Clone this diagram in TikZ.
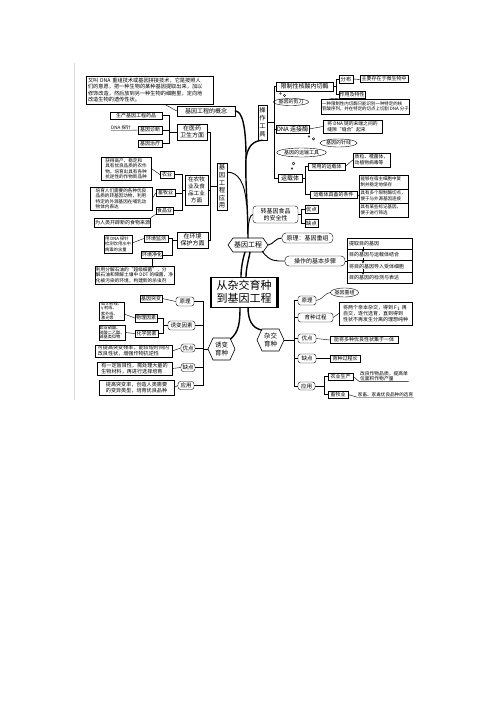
\documentclass[tikz,border=0pt]{standalone}
\usepackage{fontspec}
\setmainfont{Noto Sans CJK SC}
\usetikzlibrary{arrows.meta,shapes.geometric}
\newcommand\fsz[2]{\fontsize{#1pt}{#2pt}\selectfont}
\begin{document}
\begin{tikzpicture}[x=1pt,y=-1pt,
 bx/.style={draw,line width=0.4pt,inner sep=0.5pt,align=center,font=\fsz{5}{6}},
 ds/.style={bx,align=left,font=\fsz{4.7}{5.6}},
 lv/.style={bx,font=\fsz{6}{7.2}},
 tab/.style={lv,rounded corners=2.5pt},
 bub/.style={draw,ellipse,line width=0.4pt,inner sep=0pt,font=\fsz{5}{6}},
 ln/.style={line width=0.4pt},
 tk/.style={line width=1.4pt,line cap=round},
 md/.style={line width=0.9pt},
 hx/.style={line width=0.6pt},
 ul/.style={align=left,inner sep=0.4pt},
 arr/.style={-{Stealth[length=2.2pt,width=2.4pt]},line width=0.5pt},
]
\useasboundingbox (0,0) rectangle (500,707);
\fill[white] (0,0) rectangle (500,707);
\draw[gray!30,line width=0.6pt] (74,63) -- (74,400);

% ---------- top left: concept ----------
\node[ds,font=\fsz{5.2}{6.5},minimum width=127pt,minimum height=28pt,text width=123pt] (concept) at (149.5,90)
 {又叫 DNA 重组技术或基因拼接技术，它是按照人\\们的意愿，把一种生物的某种基因提取出来，加以\\修饰改造，然后放到另一种生物的细胞里，定向地\\改造生物的遗传性状。};
\node[lv,minimum width=58pt,minimum height=10pt] (gainian) at (206,111) {基因工程的概念};
\draw[ln] ([xshift=15pt]concept.south) -- (gainian.west);

% medicine
\node[lv,minimum width=30pt,minimum height=16pt] (yiyao) at (192,132) {在医药\\卫生方面};
\node[bx,minimum width=52pt,minimum height=7pt] (yaopin) at (136,115.5) {生产基因工程药品};
\node[bx,minimum width=24pt,minimum height=8pt] (zhenduan) at (150,130) {基因诊断};
\node[ul,font=\fsz{4.6}{5.4}] (tanzhen) at (121,127.5) {DNA 探针};
\draw[ln] (tanzhen.south west) -- (tanzhen.south east) -- (zhenduan.west);
\node[bx,minimum width=24pt,minimum height=7pt] (zhiliao) at (150,143.5) {基因治疗};
\coordinate (b1) at (169,0);
\draw[ln] (yaopin.east) -- (yaopin.east -| b1) -- (zhiliao.east -| b1) -- (zhiliao.east);
\draw[ln] (zhenduan.east) -- (zhenduan.east -| b1);
\draw[ln] (yiyao.west -| b1) -- (yiyao.west);

% application vertical
\node[lv,minimum width=10pt,minimum height=47pt,font=\fsz{6.3}{7.6}] (yingyong) at (222,186.5) {基\\因\\工\\程\\应\\用};
\node[lv,font=\fsz{5.6}{7},minimum width=23pt,minimum height=30pt] (nongmu) at (196.5,190) {在农牧\\业及食\\品工业\\方面};
\node[lv,minimum width=31pt,minimum height=16pt] (huanbao) at (192.5,240) {在环境\\保护方面};
\coordinate (b2) at (210,0);
\draw[ln] (yiyao.east) -- (yiyao.east -| b2) -- (huanbao.east -| b2) -- (huanbao.east);
\draw[ln] (nongmu.east) -- (nongmu.east -| b2);
\draw[ln] (yingyong.west) -- (yingyong.west -| b2);

% agriculture
\node[bx,minimum width=14pt,minimum height=7pt] (nongye) at (167,174.5) {农业};
\node[ds,font=\fsz{4.6}{5.5},minimum width=50pt,minimum height=23pt] (nongyed) at (126,168.5)
 {获得高产、稳定和\\具有优良品质的农作\\物，培育出具有各种\\抗逆性的作物新品种};
\node[bx,minimum width=19pt,minimum height=7pt] (xumu) at (165.5,193) {畜牧业};
\node[ds,font=\fsz{4.6}{5.5},minimum width=62pt,minimum height=23pt] (xumud) at (121,198.5)
 {培育人们需要的各种优良\\品质的转基因动物，利用\\特定的外源基因在哺乳动\\物体内表达};
\node[bx,minimum width=17pt,minimum height=7pt] (shipin) at (164.5,210.5) {食品业};
\node[bx,minimum width=51pt,minimum height=9pt] (shipind) at (122.5,222.5) {为人类开辟新的食物来源};
\coordinate (b3) at (182,0);
\draw[ln] (nongye.east) -- (nongye.east -| b3) -- (shipin.east -| b3) -- (shipin.east);
\draw[ln] (xumu.east) -- (xumu.east -| b3);
\draw[ln] (nongmu.west -| b3) -- (nongmu.west);
\draw[ln] (nongyed.east) -- (nongye.west);
\draw[ln] (xumud.east) -- (xumu.west);
\draw[ln] (shipin.south west) -- (shipind.north east);

% environment
\node[bx,minimum width=24pt,minimum height=7pt] (jiance) at (156,238.5) {环境监测};
\node[ds,font=\fsz{4.3}{5.4},minimum width=28pt,minimum height=18pt] (jianced) at (118,244) {用 DNA 探针\\检测饮用水中\\病毒的含量};
\node[bx,minimum width=20pt,minimum height=7pt] (jinghua) at (152,255) {环境净化};
\node[ds,font=\fsz{4.7}{5.7},minimum width=79pt,minimum height=18pt] (jinghuad) at (134.5,275)
 {利用分解石油的“超级细菌”，分\\解石油和降解土壤中 DDT 的细菌，净\\化被污染的环境，构建新的杀虫剂};
\coordinate (b4) at (172,0);
\draw[ln] (jiance.east) -- (jiance.east -| b4) -- (jinghua.east -| b4) -- (jinghua.east);
\draw[ln] (huanbao.west -| b4) -- (huanbao.west);
\draw[ln] ([yshift=1pt]jianced.east) -- (jiance.west);
\draw[ln] (jinghua.south) -- (jinghuad.north -| jinghua.south);

% ---------- top right: tools ----------
\node[lv,minimum width=9pt,minimum height=35pt,font=\fsz{6.3}{8}] (gongju) at (262.5,122.5) {操\\作\\工\\具};
\node[lv,minimum width=57pt,minimum height=9pt] (xianzhi) at (304.5,86.5) {限制性核酸内切酶};
\node[lv,minimum width=31pt,minimum height=8pt] (lianjie) at (292.5,129) {DNA 连接酶};
\node[lv,minimum width=24pt,minimum height=8pt] (yunzai) at (290,178.5) {运载体};
\coordinate (b5) at (274,0);
\draw[ln] (xianzhi.west) -- (xianzhi.west -| b5) -- (yunzai.west -| b5) -- (yunzai.west);
\draw[ln] (lianjie.west) -- (lianjie.west -| b5);
\draw[ln] (gongju.east) -- (gongju.east -| b5);

\node[bx,font=\fsz{5.3}{6},minimum width=14pt,minimum height=8pt] (fenbu) at (346,79) {分布};
\node[bx,minimum width=48pt,minimum height=7pt] (fenbud) at (384,78.5) {主要存在于微生物中};
\node[bx,minimum width=26pt,minimum height=7pt] (zuoyong) at (352,94.5) {作用及特性};
\node[ds,font=\fsz{4.45}{5.6},minimum width=85pt,minimum height=15pt] (zuoyongd) at (365.5,106.5)
 {一种限制性内切酶只能识别一种特定的核\\苷酸序列，并在特定的切点上切割 DNA 分子};
\coordinate (b6) at (336,0);
\draw[ln] (xianzhi.east) -- (xianzhi.east -| b6);
\draw[ln] (fenbu.west) -- (fenbu.west -| b6) -- (zuoyong.west -| b6) -- (zuoyong.west);
\draw[ln] (fenbu.east) -- ([yshift=-1pt]fenbud.west);
\draw[ln] (zuoyong.south west) -- ([xshift=8pt]zuoyongd.north west);

\node[bub,minimum width=30pt,minimum height=7pt] (jiandao) at (291,102) {基因的剪刀};
\draw[ln] (280.5,93.5) circle (0.9pt);
\draw[ln] (284.5,95.5) circle (1.2pt);

\node[ds,font=\fsz{4.8}{6},minimum width=59pt,minimum height=13pt] (lianjied) at (352.5,126.5) {将 DNA 链的末端之间的\\缝隙“缝合”起来};
\draw[ln] (lianjie.east) -- (lianjied.west);
\node[bub,minimum width=37pt,minimum height=8pt] (zhenxian) at (338.5,143) {基因的针线};
\draw[ln] (309,136.5) circle (0.9pt);
\draw[ln] (313.5,138.8) circle (1.2pt);

\node[bub,minimum width=47pt,minimum height=9pt] (yunshu) at (301.5,152.5) {基因的运输工具};
\draw[ln] (293.5,163.5) circle (1.3pt);
\draw[ln] (292,168.5) circle (0.9pt);

\node[bx,minimum width=37pt,minimum height=7pt] (changyong) at (326.5,166.5) {常用的运载体};
\node[bx,minimum width=47pt,minimum height=7pt] (tiaojian) at (333.5,194.5) {运载体具备的条件};
\coordinate (b7) at (305,0);
\draw[ln] (yunzai.east) -- (yunzai.east -| b7);
\draw[ln] (changyong.west) -- (changyong.west -| b7) -- (tiaojian.west -| b7) -- (tiaojian.west);
\node[ds,font=\fsz{4.8}{5.8},minimum width=37pt,minimum height=14pt] (changyongd) at (371.5,160) {质粒、噬菌体、\\动植物病毒等};
\draw[ln] (changyong.east) -- (changyongd.west);
\node[ds,font=\fsz{4.5}{5.6},minimum width=49pt,minimum height=14pt,text width=46pt] (c1) at (383.5,182) {能够在宿主细胞中复\\制并稳定地保存};
\node[ds,font=\fsz{4.5}{5.6},minimum width=49pt,minimum height=14pt,text width=46pt] (c2) at (383.5,196) {具有多个限制酶切点，\\便于与外源基因连接};
\node[ds,font=\fsz{4.5}{5.6},minimum width=49pt,minimum height=14pt,text width=46pt] (c3) at (383.5,210) {具有某些标记基因，\\便于进行筛选};
\draw[ln] (tiaojian.east) -- (c2.west);

% safety
\node[lv,rounded corners=3pt,minimum width=45pt,minimum height=17pt] (zhuanjiyin) at (275.5,214.5) {转基因食品\\的安全性};
\node[bx,font=\fsz{5.3}{6},minimum width=13pt,minimum height=8pt] (zjyou) at (311.5,209.5) {优点};
\node[bx,font=\fsz{5.3}{6},minimum width=13pt,minimum height=8pt] (zjque) at (311.5,223.5) {缺点};
\coordinate (b8) at (301,0);
\draw[ln] (zhuanjiyin.east) -- (zhuanjiyin.east -| b8);
\draw[ln] (zjyou.west) -- (zjyou.west -| b8) -- (zjque.west -| b8) -- (zjque.west);

% trunk
\node[font=\fsz{7}{8},minimum width=40pt,minimum height=14pt,inner sep=0pt] (jygc) at (248,245) {基因工程};
\draw[hx] (228,245) -- (233,238) -- (263,238) -- (268,245) -- (263,252) -- (233,252) -- cycle;
\draw[tk] (jygc.north) .. controls (248,210) and (245,180) .. (246,158);
\coordinate (fork) at (246,158);
\draw[tk] (fork) .. controls (246,125) and (242,111) .. (gainian.east);
\draw[tk] (fork) .. controls (248,146) and (253,141) .. (gongju.south);
\draw[md] (yingyong.70) .. controls (238,172) and (245,182) .. (246.5,205);
\draw[md] (247.5,234) .. controls (248.5,222) and (250,214.5) .. (zhuanjiyin.west);

% gene engineering right
\node[lv,rounded corners=4pt,minimum width=51pt,minimum height=10pt] (gcyl) at (307.5,238) {原理：基因重组};
\node[lv,rounded corners=4pt,minimum width=60pt,minimum height=10pt] (buzhou) at (315,261) {操作的基本步骤};
\draw[md] (jygc.east) .. controls (274,244) and (275,238) .. (gcyl.west);
\draw[md] (262,251) .. controls (270,262) and (276,261) .. (buzhou.west);
\node[ds,font=\fsz{5}{6},minimum width=65pt,minimum height=11.25pt,text width=61pt] (s1) at (379.5,243.6) {提取目的基因};
\node[ds,font=\fsz{5}{6},minimum width=65pt,minimum height=11.25pt,text width=61pt] (s2) at (379.5,254.9) {目的基因与运载体结合};
\node[ds,font=\fsz{5}{6},minimum width=65pt,minimum height=11.25pt,text width=61pt] (s3) at (379.5,266.1) {将目的基因导入受体细胞};
\node[ds,font=\fsz{5}{6},minimum width=65pt,minimum height=11.25pt,text width=61pt] (s4) at (379.5,277.4) {目的基因的检测与表达};
\draw[ln] (buzhou.east) -- (buzhou.east -| s1.west);
\draw[arr] ([xshift=-16.5pt,yshift=2.6pt]s1.south) -- ([xshift=-16.5pt,yshift=-2.6pt]s1.south);
\draw[arr] ([xshift=-16.5pt,yshift=2.6pt]s2.south) -- ([xshift=-16.5pt,yshift=-2.6pt]s2.south);
\draw[arr] ([xshift=-16.5pt,yshift=2.6pt]s3.south) -- ([xshift=-16.5pt,yshift=-2.6pt]s3.south);

% ---------- centre ----------
\node[draw,line width=0.6pt,minimum width=68pt,minimum height=30pt,inner sep=1pt,align=center,font=\fsz{11}{13.5}] (center) at (244,292) {从杂交育种\\到基因工程};
\draw[line width=2.4pt] ([xshift=1.2pt]center.north west) -- ([xshift=1.2pt]center.south west);
\draw[line width=2.4pt] ([xshift=-1.2pt]center.north east) -- ([xshift=-1.2pt]center.south east);
\draw[tk] ([xshift=-3pt]center.north) .. controls (241,268) and (243,258) .. ([xshift=-3pt]jygc.south);
\draw[tk] ([xshift=2pt]center.north) .. controls (246,268) and (249,258) .. ([xshift=2pt]jygc.south);

% hexagons
\node[font=\fsz{6.5}{8},minimum width=27pt,minimum height=22pt,inner sep=0pt,align=center] (youbian) at (221.5,349) {诱变\\育种};
\draw[hx] (208,349) -- (213,338) -- (230,338) -- (235,349) -- (230,360) -- (213,360) -- cycle;
\node[font=\fsz{6.5}{8},minimum width=27pt,minimum height=22pt,inner sep=0pt,align=center] (zajiao) at (270.5,340) {杂交\\育种};
\draw[hx] (257,340) -- (262,329) -- (279,329) -- (284,340) -- (279,351) -- (262,351) -- cycle;
\coordinate (ybtop) at (230.5,339);
\coordinate (zjtop) at (261.5,330);
\draw[tk] ([xshift=-4pt]center.south) .. controls (240,322) and (239,332) .. (ybtop);
\draw[tk] ([xshift=4pt]center.south) .. controls (248,320) and (252,328) .. (zjtop);

% ---------- mutation breeding (left) ----------
\node[tab,font=\fsz{5.5}{6.5},minimum width=18pt,minimum height=9pt] (ybyl) at (185,301.5) {原理};
\node[bx,minimum width=22pt,minimum height=7pt] (tubian) at (151,298.5) {基因突变};
\draw[ln] (ybyl.west) -- (tubian.east);
\node[tab,font=\fsz{5.5}{6.5},minimum width=27pt,minimum height=9pt] (ybys) at (181.5,325.5) {诱变因素};
\node[bx,minimum width=22pt,minimum height=8pt] (wuli) at (146,318) {物理因素};
\node[bx,minimum width=23pt,minimum height=7pt] (huaxue) at (146.5,333.5) {化学因素};
\coordinate (b9) at (163,0);
\draw[ln] (wuli.east) -- (wuli.east -| b9) -- (huaxue.east -| b9) -- (huaxue.east);
\draw[ln] (ybys.west -| b9) -- (ybys.west);
\node[ds,font=\fsz{4.1}{3.95},minimum width=25pt,minimum height=16pt] (wulid) at (111.5,311) {如 X 射线、\\γ 射线、\\紫外线、\\激光等};
\node[ds,font=\fsz{4.2}{4.6},minimum width=26pt,minimum height=15pt] (huaxued) at (112,332.5) {如亚硝酸、\\硫酸二乙酯、\\碱基类似物};
\draw[ln] ([yshift=-3pt]wulid.east) -- (wuli.west);
\draw[ln] (huaxued.east) -- (huaxue.west);
\node[tab,font=\fsz{5.5}{6.5},minimum width=14pt,minimum height=8pt] (ybyou) at (188,348) {优点};
\node[tab,font=\fsz{5.5}{6.5},minimum width=14pt,minimum height=8pt] (ybque) at (188,367.5) {缺点};
\node[tab,font=\fsz{5.5}{6.5},minimum width=16pt,minimum height=8pt] (ybying) at (186,385.5) {应用};
\node[ds,font=\fsz{5.1}{6.1},minimum width=77pt,minimum height=12pt] (ybyoud) at (133.5,351) {可提高突变频率，能较短时间内\\改良性状，增强作物抗逆性};
\node[ds,font=\fsz{5.1}{6.1},minimum width=75pt,minimum height=13pt] (ybqued) at (134.5,368.5) {有一定盲目性，需处理大量的\\生物材料，再进行选择培育};
\node[ds,font=\fsz{5.1}{6.1},minimum width=75pt,minimum height=15pt] (ybyingd) at (136.5,387.5) {提高突变率，创造人类需要\\的变异类型，培育优良品种};
\draw[ln] (ybyoud.east) -- (ybyou.west);
\draw[ln] (ybqued.east) -- (ybque.west);
\draw[ln] (ybyingd.east) -- (ybying.west);
\coordinate (b10) at (203,0);
\draw[ln] (ybyl.east) -- (ybyl.east -| b10) -- (ybying.east -| b10) -- (ybying.east);
\draw[ln] (ybys.east) -- (ybys.east -| b10);
\draw[ln] (ybyou.east) -- (ybyou.east -| b10);
\draw[ln] (ybque.east) -- (ybque.east -| b10);
\draw[ln] (youbian.west) -- (youbian.west -| b10);

% ---------- cross breeding (right) ----------
\node[tab,font=\fsz{5.5}{6.5},minimum width=18pt,minimum height=9pt] (zjyl) at (307,300.5) {原理};
\node[bub,minimum width=27pt,minimum height=9pt] (chongzu) at (344.5,292.5) {基因重组};
\draw[ln] (zjyl.east) .. controls (322,300) and (325,293) .. (chongzu.west);
\node[tab,font=\fsz{5.5}{6.5},minimum width=35pt,minimum height=9pt] (guocheng) at (315.5,317.5) {育种过程};
\node[ds,font=\fsz{5}{6.4},minimum width=73pt,minimum height=23pt] (guochengd) at (375.5,313.5) {将两个亲本杂交，得到 F$_1$ 再\\自交，逐代选育，直到得到\\性状不再发生分离的理想纯种};
\draw[ln] (guocheng.east) -- (guochengd.west);
\node[tab,font=\fsz{5.5}{6.5},minimum width=18pt,minimum height=9pt] (zjyou2) at (307,338.5) {优点};
\node[bx,minimum width=68pt,minimum height=7pt] (zjyou2d) at (364,340) {能将多种优良性状集于一体};
\draw[ln] (zjyou2.east) -- (zjyou2d.west);
\node[tab,font=\fsz{5.5}{6.5},minimum width=18pt,minimum height=9pt] (zjque2) at (307,358.5) {缺点};
\node[bx,minimum width=30pt,minimum height=7pt] (zjque2d) at (345,358.5) {育种过程长};
\draw[ln] (zjque2.east) -- (zjque2d.west);
\node[tab,font=\fsz{5.5}{6.5},minimum width=17pt,minimum height=8pt] (zjying) at (306.5,386) {应用};
\coordinate (b11) at (294,0);
\draw[ln] (zjyl.west) -- (zjyl.west -| b11) -- (zjying.west -| b11) -- (zjying.west);
\draw[ln] (guocheng.west) -- (guocheng.west -| b11);
\draw[ln] (zjyou2.west) -- (zjyou2.west -| b11);
\draw[ln] (zjque2.west) -- (zjque2.west -| b11);
\draw[ln] (zajiao.east) -- (zajiao.east -| b11);

\node[bx,minimum width=25pt,minimum height=7pt] (nyss) at (340.5,376.5) {农业生产};
\node[bx,minimum width=20pt,minimum height=7pt] (xmy) at (338,394.5) {畜牧业};
\coordinate (b12) at (324,0);
\draw[ln] (zjying.east) -- (zjying.east -| b12);
\draw[ln] (nyss.west) -- (nyss.west -| b12) -- (xmy.west -| b12) -- (xmy.west);
\node[ul,font=\fsz{4.8}{5.6}] (nyssd) at (384,376) {改良作物品质，提高单\\位面积作物产量};
\draw[ln] (nyss.east) -- (nyssd.south west) -- (nyssd.south east);
\node[ul,font=\fsz{4.6}{5.4}] (xmyd) at (385.5,394.5) {家畜、家禽优良品种的选育};
\draw[ln] (xmy.east) -- (xmyd.south west) -- (xmyd.south east);
\end{tikzpicture}
\end{document}
